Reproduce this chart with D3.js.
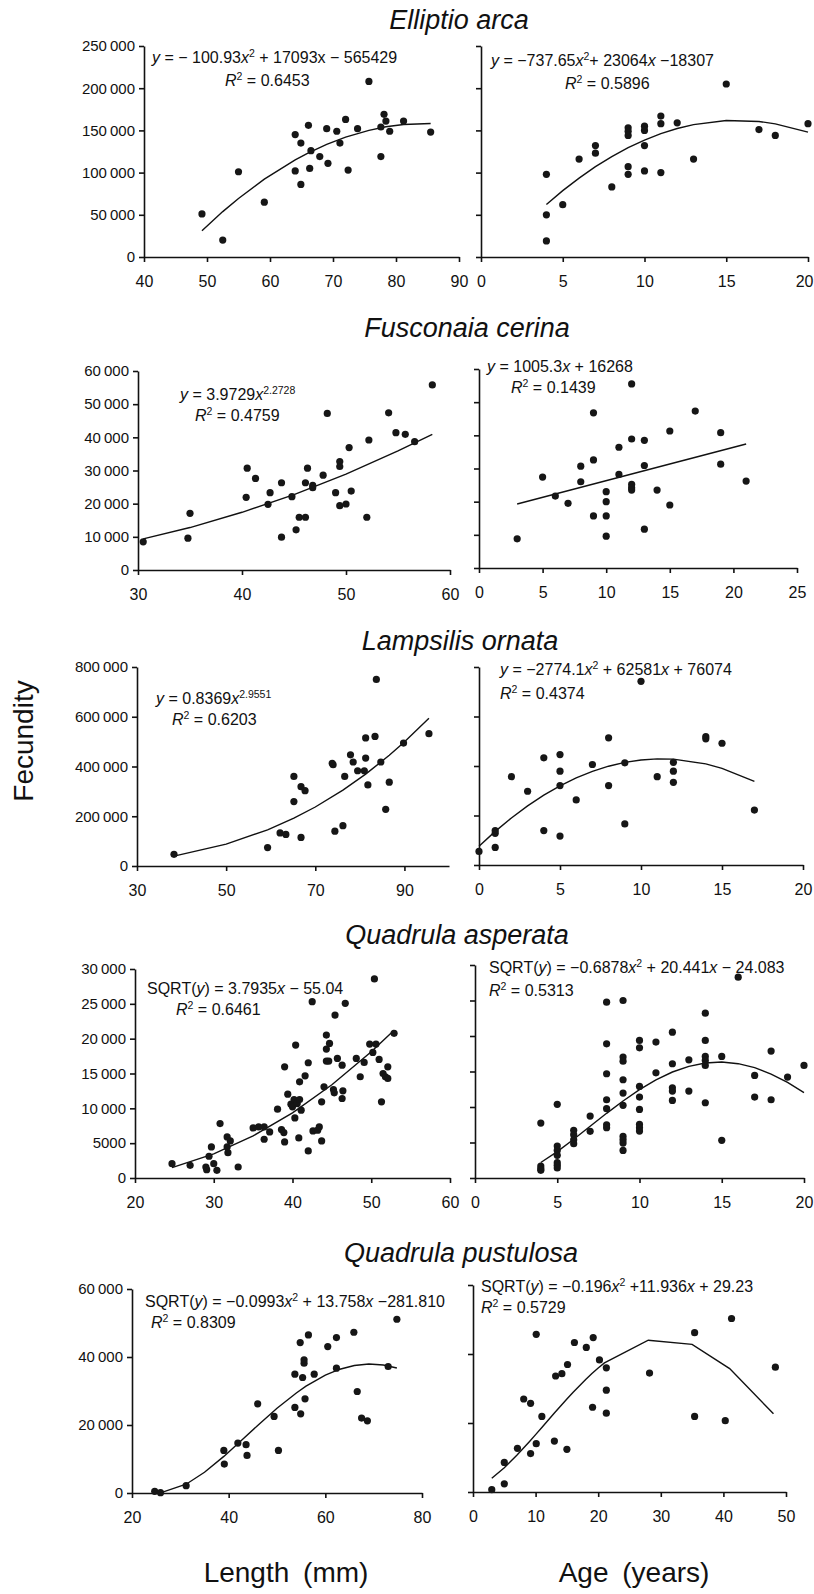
<!DOCTYPE html>
<html>
<head>
<meta charset="utf-8">
<script src="https://cdn.jsdelivr.net/npm/d3@7"></script>
<style>
  body { margin: 0; background: #fff; }
  svg { display: block; font-family: "Liberation Sans", Arial, sans-serif; }
  .dot { fill: #161616; }
  .fit { fill: none; stroke: #111; stroke-width: 1.4; }
  .axis path, .axis line { stroke: #111; stroke-width: 1.6; }
  .axis text { fill: #111; }
  .axis--y text { font-size: 15px; }
  .axis--x text { font-size: 16px; }
  .eq { font-size: 16px; fill: #111; }
  .title { font-size: 27px; font-style: italic; fill: #111; }
  .label { font-size: 28px; fill: #111; }
</style>
</head>
<body>
<div id="chart"></div>
<script>
// ---- data: [x, fecundity] ----
const ellLen = [[49.2,51000],[52.5,20000],[55.0,101000],[59.1,65000],[64.0,145000],[64.0,102000],[64.9,135000],[64.9,86000],[66.1,156000],[66.5,126000],[66.3,105000],[67.9,119000],[69.0,152000],[69.2,111000],[70.6,149000],[71.1,135000],[72.0,163000],[72.4,103000],[73.9,152000],[75.7,208000],[77.6,119000],[77.6,154000],[78.1,169000],[78.4,161000],[79.0,149000],[81.2,161000],[85.5,148000]];
const ellLenFit = [[49.2,31200],[52.5,53800],[55,69400],[59.1,92200],[64,115100],[66.1,123400],[69,133500],[72,142000],[75.7,150100],[78.4,154300],[81.2,157000],[85.5,158200]];
const ellAge = [[4,98000],[4,50000],[4,19000],[5,62000],[6,116000],[7,132000],[7,123000],[8,83000],[9,153000],[9,149000],[9,144000],[9,107000],[9,98000],[10,155000],[10,150000],[10,132000],[10,102000],[11,167000],[11,158000],[11,100000],[12,159000],[13,116000],[15,205000],[17,151000],[18,144000],[20,158000]];
const ellAgeFit = [[4,62100],[5,78600],[6,93500],[7,107000],[8,119000],[9,129500],[10,138600],[11,146100],[12,152200],[13,156900],[15,161700],[17,160600],[18,157800],[20,147900]];

const fusLen = [[30.5,8500],[34.8,9600],[35.0,17100],[40.4,21900],[40.5,30700],[41.3,27600],[42.5,19800],[42.7,23300],[43.8,26300],[43.8,9900],[44.8,22100],[45.2,12100],[45.5,15900],[46.1,15900],[46.1,26300],[46.3,30700],[46.8,24800],[46.8,25500],[47.8,28600],[48.2,47200],[49.0,23300],[49.4,19400],[49.4,32700],[49.4,31200],[50.0,19900],[50.3,36900],[50.5,23800],[52.0,15900],[52.2,39200],[54.1,47400],[54.8,41400],[55.7,40900],[56.6,38700],[58.3,55800]];
const fusLenFit = [[30.5,9400],[35,12800],[40,17400],[45,22700],[50,28900],[55,35900],[58.3,40900]];
const fusAge = [[3,8800],[5,27400],[6,21700],[7,19500],[8,26000],[8,30700],[9,46800],[9,32600],[9,15700],[10,23000],[10,20000],[10,15700],[10,9600],[11,36400],[11,28200],[12,55500],[12,38900],[12,25200],[12,24200],[12,23500],[13,38500],[13,30900],[13,11700],[14,23500],[15,41300],[15,19000],[17,47300],[19,40800],[19,31300],[21,26200]];
const fusAgeFit = [[3,19300],[21,37400]];

const lamLen = [[38.3,47000],[59.3,74000],[62.1,133000],[63.4,127000],[65.2,259000],[65.2,360000],[66.8,115000],[66.8,319000],[67.7,303000],[74.0,407000],[73.8,413000],[74.4,140000],[76.2,162000],[76.6,360000],[77.9,447000],[78.5,418000],[79.5,383000],[81.0,383000],[81.3,515000],[81.3,434000],[81.8,326000],[83.4,521000],[83.7,750000],[84.7,418000],[86.6,337000],[85.8,228000],[89.8,494000],[95.5,532000]];
const lamLenFit = [[38.3,39900],[50,87800],[59.3,145300],[65.2,192300],[70,237200],[76.2,304900],[81.3,369200],[86.6,444900],[89.8,495300],[95.5,594000]];
const lamAge = [[0,55000],[1,128000],[1,139000],[1,71000],[2,357000],[3,298000],[4,433000],[4,139000],[5,446000],[5,379000],[5,321000],[5,117000],[6,263000],[7,406000],[8,514000],[8,321000],[9,413000],[9,166000],[10,742000],[11,357000],[12,415000],[12,379000],[12,334000],[14,519000],[14,510000],[15,492000],[17,222000]];
const lamAgeFit = [[0,76100],[1,135900],[2,190100],[3,238900],[4,282000],[5,319600],[6,351700],[7,378200],[8,399200],[9,414600],[10,424500],[11,428800],[12,427600],[14,408500],[15,390600],[17,338200]];

const qasLen = [[24.7,2060],[27.0,1820],[29.0,1580],[29.1,1200],[29.4,3120],[29.7,4460],[30.0,2060],[30.4,1100],[30.8,7810],[31.7,5900],[31.7,4460],[31.8,3640],[32.1,5320],[33.1,1580],[35.0,7190],[35.7,7330],[36.4,7330],[36.4,5560],[37.1,6620],[38.1,9880],[38.6,6950],[38.9,6520],[39.0,5180],[39.0,15960],[39.4,12030],[39.8,10590],[40.0,10210],[40.2,11270],[40.3,8630],[40.4,19080],[40.6,10690],[40.9,11270],[40.9,13810],[40.8,5750],[41.1,9730],[41.6,14670],[42.0,3880],[42.0,16540],[42.5,25310],[42.6,6760],[43.2,6860],[43.4,7330],[43.7,5320],[43.7,10930],[44.0,13090],[44.3,20520],[44.3,18500],[44.7,19320],[44.3,16780],[44.6,16780],[45.4,23390],[45.2,12700],[45.3,12220],[45.7,17160],[46.3,16200],[46.3,11410],[46.4,12510],[46.7,25070],[48.1,17160],[48.6,14530],[49.1,16590],[49.8,19220],[50.2,18020],[50.4,28570],[50.6,19220],[51.0,17020],[51.3,10930],[51.5,15000],[51.8,14530],[52.1,15960],[52.1,14290],[52.9,20760]];
const qasLenFit = [[24.7,1500],[30,3450],[35,6040],[40,9350],[45,13380],[50,18130],[52.9,21210]];
const qasAge = [[4,7740],[4,1690],[4,1310],[4,1080],[5,10370],[5,4500],[5,3890],[5,3190],[5,2160],[5,1780],[5,1410],[6,6710],[6,6100],[6,5390],[6,4830],[7,8720],[7,6570],[8,24770],[8,18900],[8,14680],[8,11020],[8,9760],[8,7500],[8,7080],[9,25000],[9,17030],[9,16460],[9,13840],[9,11960],[9,10230],[9,5860],[9,5390],[9,4920],[9,3890],[10,19370],[10,18340],[10,12900],[10,11400],[10,9660],[10,7550],[10,7080],[10,6610],[11,19140],[11,14820],[12,20540],[12,16090],[12,12710],[12,12240],[12,10930],[13,16650],[13,12240],[14,23220],[14,19370],[14,17120],[14,16560],[14,15850],[14,10600],[15,17120],[15,5300],[16,28280],[17,14450],[17,11400],[18,17870],[18,11020],[19,14210],[20,15850]];
const qasAgeFit = [[4,2180],[5,3710],[6,5450],[7,7280],[8,9110],[9,10850],[10,12440],[11,13820],[12,14930],[13,15730],[14,16200],[15,16330],[16,16100],[17,15540],[18,14640],[19,13460],[20,12020]];

const qpuLen = [[24.7,500],[25.9,100],[31.2,2150],[39.0,12530],[39.1,8520],[41.9,14680],[43.6,14200],[43.8,11060],[46.0,26240],[49.4,22520],[50.3,12530],[53.7,25160],[53.7,34950],[54.8,44250],[54.9,23300],[55.3,33970],[55.6,38180],[55.6,39160],[55.8,27700],[56.5,46500],[57.7,34950],[60.5,43070],[62.3,45720],[62.3,36710],[65.9,47280],[66.6,29860],[67.5,22030],[68.7,21240],[73.0,37200],[74.8,51100]];
const qpuLenFit = [[24.7,0],[25.9,60],[31.2,2580],[35,6100],[39,10760],[42,14610],[46,19860],[50,24910],[54,29430],[56,31410],[60,34670],[63,36410],[66,37510],[69,37920],[72,37640],[74.8,36750]];
const qpuAge = [[3,670],[5,2380],[5,8570],[7.1,12670],[8.1,26950],[9.2,25710],[9.2,11140],[10.1,14000],[10.1,45710],[11,21900],[13,14760],[13.2,33620],[14.2,34290],[15,12380],[15.1,36950],[16.2,43330],[18.1,41900],[19.1,24570],[19.2,44760],[20.2,38290],[21.3,36000],[21.3,29520],[21.3,22860],[28.2,34480],[35.4,46190],[35.4,21900],[40.3,20670],[41.3,50290],[48.3,36190]];
const qpuAgeFit = [[3,4000],[5,7050],[7,10650],[8,12580],[9,14590],[10,16640],[11,18720],[13,22880],[14,24940],[15,26950],[16,28910],[18,32610],[19,34320],[20,35930],[21,37420],[28,44000],[35,42800],[41,35770],[48,22670]];

// ---- axis ticks ----
const ellY = [0,50000,100000,150000,200000,250000];
const fusY = [0,10000,20000,30000,40000,50000,60000];
const lamY = [0,200000,400000,600000,800000];
const qasY = [0,5000,10000,15000,20000,25000,30000];
const qpuY = [0,20000,40000,60000];

const titles = ['Elliptio arca','Fusconaia cerina','Lampsilis ornata','Quadrula asperata','Quadrula pustulosa'];

// ---- layout (pixels) ----
const panels = [
  { pts: ellLen, fit: ellLenFit, xd: [40,90], xt: [40,50,60,70,80,90], yt: ellY, lab: true,
    box: [144,459,46,257], eq: [[152,63,'{y} = − 100.93{x}^{2} + 17093x − 565429'],[225,86,'{R}^{2} = 0.6453']] },
  { pts: ellAge, fit: ellAgeFit, xd: [0,20], xt: [0,5,10,15,20], yt: ellY, lab: false,
    box: [481,808,46,257], eq: [[491,66,'{y} = −737.65{x}^{2}+ 23064{x} −18307'],[565,89,'{R}^{2} = 0.5896']] },
  { pts: fusLen, fit: fusLenFit, xd: [30,60], xt: [30,40,50,60], yt: fusY, lab: true,
    box: [138,450,371,570], eq: [[180,400,'{y} = 3.9729{x}^{2.2728}'],[195,421,'{R}^{2} = 0.4759']] },
  { pts: fusAge, fit: fusAgeFit, xd: [0,25], xt: [0,5,10,15,20,25], yt: fusY, lab: false,
    box: [479,797,369,568], eq: [[487,372,'{y} = 1005.3{x} + 16268'],[511,393,'{R}^{2} = 0.1439']] },
  { pts: lamLen, fit: lamLenFit, xd: [30,100], xt: [30,50,70,90], yt: lamY, lab: true,
    box: [137,449,667,866], eq: [[156,704,'{y} = 0.8369{x}^{2.9551}'],[172,725,'{R}^{2} = 0.6203']] },
  { pts: lamAge, fit: lamAgeFit, xd: [0,20], xt: [0,5,10,15,20], yt: lamY, lab: false,
    box: [479,803,667,865], eq: [[500,675,'{y} = −2774.1{x}^{2} + 62581{x} + 76074'],[500,699,'{R}^{2} = 0.4374']] },
  { pts: qasLen, fit: qasLenFit, xd: [20,60], xt: [20,30,40,50,60], yt: qasY, lab: true,
    box: [135,450,969,1178], eq: [[147,994,'SQRT({y}) = 3.7935{x} − 55.04'],[176,1015,'{R}^{2} = 0.6461']] },
  { pts: qasAge, fit: qasAgeFit, xd: [0,20], xt: [0,5,10,15,20], yt: qasY, lab: false,
    box: [475,804,965,1178], eq: [[489,973,'SQRT({y}) = −0.6878{x}^{2} + 20.441{x} − 24.083'],[489,996,'{R}^{2} = 0.5313']] },
  { pts: qpuLen, fit: qpuLenFit, xd: [20,80], xt: [20,40,60,80], yt: qpuY, lab: true,
    box: [132,422,1289,1493], eq: [[145,1307,'SQRT({y}) = −0.0993{x}^{2} + 13.758{x} −281.810'],[151,1328,'{R}^{2} = 0.8309']] },
  { pts: qpuAge, fit: qpuAgeFit, xd: [0,50], xt: [0,10,20,30,40,50], yt: qpuY, lab: false,
    box: [473,786,1285,1492], eq: [[481,1292,'SQRT({y}) = −0.196{x}^{2} +11.936{x} + 29.23'],[481,1313,'{R}^{2} = 0.5729']] }
];
const titlePos = [[459,29],[467,337],[460,650],[457,944],[461,1262]];

const fmt = (d) => d >= 10000 ? d3.format(',')(d).replace(/,/g, '\u2009') : String(d);

const svg = d3.select('#chart').append('svg')
    .attr('width', 814)
    .attr('height', 1594);

svg.append('rect')
    .attr('width', 814)
    .attr('height', 1594)
    .attr('fill', '#fff');

// equation text with {italic} and ^{superscript} markup
function drawEq(g, x, y, str) {
  const text = g.append('text')
      .attr('class', 'eq')
      .attr('x', x)
      .attr('y', y);
  const parts = str.split(/(\^\{[^}]*\}|\{[^}]*\})/).filter(s => s.length);
  let raised = false;
  parts.forEach(p => {
    const t = text.append('tspan');
    if (p.startsWith('^{')) {
      t.text(p.slice(2, -1)).attr('font-size', 10.5).attr('dy', -6);
      raised = true;
      return;
    }
    if (raised) { t.attr('dy', 6); raised = false; }
    if (p.startsWith('{')) {
      t.text(p.slice(1, -1)).attr('font-style', 'italic');
    } else {
      t.text(p);
    }
  });
}

panels.forEach((p) => {
  const [x0, x1, y0, y1] = p.box;
  const x = d3.scaleLinear().domain(p.xd).range([x0, x1]);
  const y = d3.scaleLinear().domain([0, d3.max(p.yt)]).range([y1, y0]);
  const g = svg.append('g');

  g.append('g')
      .attr('class', 'axis axis--y')
      .attr('transform', `translate(${x0},0)`)
      .call(d3.axisLeft(y)
        .tickValues(p.yt)
        .tickSize(5)
        .tickSizeOuter(0)
        .tickPadding(4)
        .tickFormat(p.lab ? fmt : ''));

  const xAxis = g.append('g')
      .attr('class', 'axis axis--x')
      .attr('transform', `translate(0,${y1})`)
      .call(d3.axisBottom(x)
        .tickValues(p.xt)
        .tickSize(5)
        .tickSizeOuter(0)
        .tickPadding(14)
        .tickFormat(d3.format('d')));

  // keep the last label inside the page edge
  xAxis.selectAll('.tick text').each(function(d) {
    const right = x(d) + this.getComputedTextLength() / 2;
    if (right > 813) d3.select(this).attr('dx', 813 - right);
  });

  g.append('path')
      .datum(p.fit)
      .attr('class', 'fit')
      .attr('d', d3.line().x(d => x(d[0])).y(d => y(d[1])));

  g.append('g')
    .selectAll('circle')
      .data(p.pts)
    .enter().append('circle')
      .attr('class', 'dot')
      .attr('cx', d => x(d[0]))
      .attr('cy', d => y(d[1]))
      .attr('r', 3.6);

  p.eq.forEach(e => drawEq(g, e[0], e[1], e[2]));
});

titles.forEach((t, i) => {
  svg.append('text')
      .attr('class', 'title')
      .attr('x', titlePos[i][0])
      .attr('y', titlePos[i][1])
      .attr('text-anchor', 'middle')
      .text(t);
});

svg.append('text')
    .attr('class', 'label')
    .attr('transform', 'translate(33,741) rotate(-90)')
    .attr('text-anchor', 'middle')
    .text('Fecundity');

svg.append('text')
    .attr('class', 'label')
    .attr('x', 286)
    .attr('y', 1582)
    .attr('text-anchor', 'middle')
    .attr('word-spacing', 6)
    .text('Length (mm)');

svg.append('text')
    .attr('class', 'label')
    .attr('x', 634)
    .attr('y', 1582)
    .attr('text-anchor', 'middle')
    .attr('word-spacing', 6)
    .text('Age (years)');
</script>
</body>
</html>
